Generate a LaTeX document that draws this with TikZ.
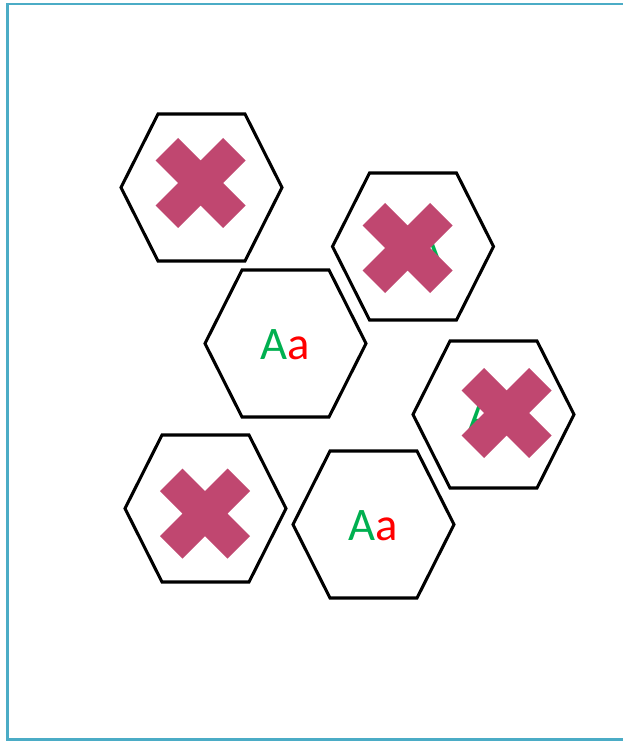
\documentclass[tikz,border=0pt]{standalone}
\usepackage{fontspec}
\setmainfont{Carlito}
\definecolor{framecol}{RGB}{75,172,198}
\definecolor{xcol}{RGB}{192,71,112}
\definecolor{acol}{RGB}{0,176,80}
\tikzset{
 hexline/.style={draw=black, fill=white, line width=2.3pt, line join=miter},
 crossfill/.style={fill=xcol},
 letters/.style={inner sep=0pt, font=\fontsize{35}{42}\selectfont},
 hexcell/.pic={\path[hexline] (-80.5,0) -- (-43.5,-73.5) -- (43.5,-73.5) -- (80.5,0) -- (43.5,73.5) -- (-43.5,73.5) -- cycle;},
 nocross/.pic={\path[crossfill] (-22.5,-45) -- (0,-22.5) -- (22.5,-45) -- (45,-22.5) -- (22.5,0) -- (45,22.5)
   -- (22.5,45) -- (0,22.5) -- (-22.5,45) -- (-45,22.5) -- (-22.5,0) -- (-45,-22.5) -- cycle;}
}
\begin{document}
\begin{tikzpicture}[x=0.75pt, y=-0.75pt]
 \useasboundingbox (0,0) rectangle (623,741);
 % frame, right side runs off the page
 \draw[framecol, line width=1.9pt] (640,4) -- (7.5,4) -- (7.5,739.5) -- (640,739.5);
 % hexagons
 \pic at (201.5,187.5) {hexcell};
 \pic at (413,246.5) {hexcell};
 \pic at (285.5,343.5) {hexcell};
 \pic at (493.5,414.5) {hexcell};
 \pic at (205.5,508.5) {hexcell};
 \pic at (373.5,524.5) {hexcell};
 % letters
 \node[letters] (mid) at (285.5,345) {\textcolor{acol}{A}\textcolor{red}{a}};
 \node[letters] (low) at (373.5,526) {\textcolor{acol}{A}\textcolor{red}{a}};
 \node[letters] (topr) at (428,247.5) {\textcolor{acol}{A}};
 \node[letters] (right) at (493.5,415.5) {\textcolor{acol}{A}\textcolor{red}{a}};
 % crosses on top
 \pic at (200.5,183) {nocross};
 \pic at (407.5,248) {nocross};
 \pic at (506.5,413) {nocross};
 \pic at (205,513.5) {nocross};
\end{tikzpicture}
\end{document}
